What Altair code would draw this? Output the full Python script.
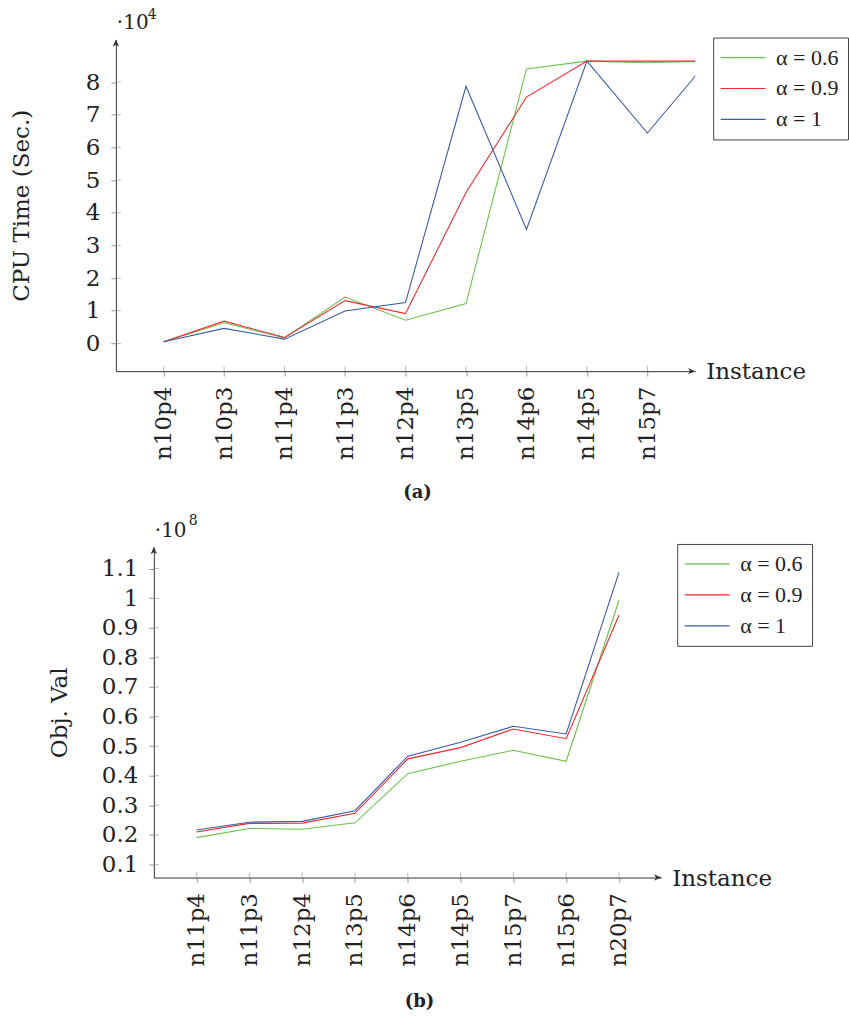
import json
import altair as alt
import pandas as pd

FONT = "DejaVu Serif"
LEG_FONT = "Liberation Serif"

# ---------------- data ----------------
series_labels = ["α = 0.6", "α = 0.9", "α = 1"]
series_colors = ["#6cbf4c", "#ee2a2f", "#3b5ba5"]

# panel (a): CPU time in seconds; last (10th) instance lies past the axis end
inst_a = ["n10p4", "n10p3", "n11p4", "n11p3", "n12p4", "n13p5", "n14p6", "n14p5", "n15p7"]
cpu_06 = [500, 6300, 1700, 14200, 7100, 12200, 84000, 86400, 85900, 86400]
cpu_09 = [500, 6800, 1800, 13100, 9100, 46200, 75400, 86400, 86400, 86400]
cpu_10 = [500, 4600, 1300, 9900, 12500, 78700, 34900, 86400, 64400, 86400]

# panel (b): objective value
inst_b = ["n11p4", "n11p3", "n12p4", "n13p5", "n14p6", "n14p5", "n15p7", "n15p6", "n20p7"]
obj_06 = [1.91e7, 2.22e7, 2.19e7, 2.41e7, 4.07e7, 4.49e7, 4.86e7, 4.49e7, 9.93e7]
obj_09 = [2.10e7, 2.39e7, 2.40e7, 2.73e7, 4.57e7, 4.95e7, 5.58e7, 5.25e7, 9.42e7]
obj_10 = [2.165e7, 2.43e7, 2.458e7, 2.82e7, 4.66e7, 5.13e7, 5.67e7, 5.41e7, 10.87e7]

cpu_ticks = [0, 10000, 20000, 30000, 40000, 50000, 60000, 70000, 80000]
obj_ticks = [1e7, 2e7, 3e7, 4e7, 5e7, 6e7, 7e7, 8e7, 9e7, 1e8, 1.1e8]


def long_df(series_list):
    rows = []
    for lab, vals in zip(series_labels, series_list):
        for i, v in enumerate(vals):
            rows.append({"idx": i, "val": v, "series": lab})
    return pd.DataFrame(rows)


df_a = long_df([cpu_06, cpu_09, cpu_10])
df_b = long_df([obj_06, obj_09, obj_10])

ARROW_UP = "M0,0L0.8,1.8L0,1.3L-0.8,1.8Z"
ARROW_RIGHT = "M0,0L-1.8,0.8L-1.3,0L-1.8,-0.8Z"
LEGEND_LINE = "M-3,0L3,0"


def one(**kw):
    return alt.Chart(pd.DataFrame([kw]))


def panel(df, inst, width, height, xdom, ydom, yticks, ylabel_expr, ytitle,
          exp_base, exp_sup, exp_pos, legend_xy, caption, caption_pos,
          bound_marker=None):
    xscale = alt.Scale(domain=xdom, nice=False, zero=False)
    yscale = alt.Scale(domain=ydom, nice=False, zero=False)
    x = alt.X("idx:Q", scale=xscale,
              axis=alt.Axis(values=list(range(len(inst))),
                            labelExpr=json.dumps(inst) + "[datum.value]",
                            labelAngle=-90, labelFlush=False, labelOverlap=False,
                            title=None, grid=False, tickSize=5, labelPadding=10))
    y = alt.Y("val:Q", scale=yscale,
              axis=alt.Axis(values=yticks, labelExpr=ylabel_expr,
                            labelFlush=False, labelOverlap=False,
                            title=ytitle, titleAngle=-90, titleX=-94,
                            titleAlign="center", titleBaseline="middle",
                            grid=False, tickSize=5, labelPadding=11))
    color = alt.Color("series:N",
                      scale=alt.Scale(domain=series_labels, range=series_colors),
                      legend=alt.Legend(orient="none", legendX=legend_xy[0],
                                        legendY=legend_xy[1], title=None,
                                        symbolType=LEGEND_LINE, symbolSize=225,
                                        symbolStrokeWidth=1.2, symbolOffset=10,
                                        labelFont=LEG_FONT,
                                        labelFontSize=22, labelColor="#222",
                                        labelOffset=22, strokeColor="#444",
                                        fillColor="white", padding=9,
                                        rowPadding=9))
    lines = alt.Chart(df).mark_line(strokeWidth=1.1, clip=True).encode(
        x=x, y=y, color=color, order="idx:Q")

    # inner halves of the axis ticks (pgfplots ticks cross the axis line)
    yt = alt.Chart(pd.DataFrame({"val": yticks})).mark_tick(
        color="#999", size=5, thickness=1).encode(
        y=alt.Y("val:Q", scale=yscale, axis=None), x=alt.value(2.5))
    xt = alt.Chart(pd.DataFrame({"idx": list(range(len(inst)))})).mark_tick(
        color="#999", size=5, thickness=1).encode(
        x=alt.X("idx:Q", scale=xscale, axis=None), y=alt.value(height - 2.5))

    up = one(k=0).mark_point(shape=ARROW_UP, size=64, filled=True, color="#333",
                             opacity=1, strokeWidth=0).encode(
        x=alt.value(0), y=alt.value(0))
    right = one(k=0).mark_point(shape=ARROW_RIGHT, size=64, filled=True, color="#333",
                                opacity=1, strokeWidth=0).encode(
        x=alt.value(width), y=alt.value(height))

    inst_txt = one(t="Instance").mark_text(font=FONT, fontSize=23, align="left",
                                          baseline="middle", color="#222").encode(
        text="t:N", x=alt.value(width + 11), y=alt.value(height + 1))
    e1 = one(t=exp_base).mark_text(font=FONT, fontSize=20, align="left",
                                   baseline="alphabetic", color="#222").encode(
        text="t:N", x=alt.value(exp_pos[0]), y=alt.value(exp_pos[1]))
    e2 = one(t=exp_sup).mark_text(font=FONT, fontSize=14, align="left",
                                  baseline="alphabetic", color="#222").encode(
        text="t:N", x=alt.value(exp_pos[2]), y=alt.value(exp_pos[3]))
    cap = one(t=caption).mark_text(font=FONT, fontSize=18, fontWeight="bold",
                                   align="center", baseline="middle",
                                   color="#222").encode(
        text="t:N", x=alt.value(caption_pos[0]), y=alt.value(caption_pos[1]))
    layers = [lines, yt, xt, up, right, inst_txt, e1, e2, cap]
    if bound_marker is not None:
        bm = one(k=0).mark_rule(opacity=0, strokeWidth=0.01).encode(
            x=alt.value(bound_marker[0]), x2=alt.value(bound_marker[0]),
            y=alt.value(bound_marker[1]), y2=alt.value(bound_marker[1]))
        layers.append(bm)
    return alt.layer(*layers).resolve_axis(
        x="independent", y="independent"
    ).properties(width=width, height=height)


top = panel(df_a, inst_a, 580, 332, [-0.79, 8.79], [-8500, 93000], cpu_ticks,
            "datum.value / 10000", "CPU Time (Sec.)",
            "·10", "4", (1, -11, 32, -21), (598, -2), "(a)", (302, 454),
            bound_marker=(-116, -39))

bottom = panel(df_b, inst_b, 508, 331, [-0.81, 8.8], [0.56e7, 11.73e7], obj_ticks,
               "format(datum.value / 100000000, '.1~f')", "Obj. Val",
               "·10", "8", (1, -10, 35, -22), (562, -3), "(b)", (266, 456))

spacer = one(k=0).mark_point(opacity=0, size=1).encode(
    x=alt.X("k:Q", axis=None), y=alt.Y("k:Q", axis=None)
).properties(width=38, height=331)

bottom_row = alt.hconcat(spacer, bottom, spacing=0, bounds="flush")

chart = alt.vconcat(top, bottom_row, spacing=176, bounds="flush").resolve_scale(
    color="independent"
).properties(padding=0).configure_view(stroke=None).configure_axis(
    labelFont=FONT, labelFontSize=23, labelColor="#222",
    titleFont=FONT, titleFontSize=23, titleFontWeight="normal", titleColor="#222",
    domainColor="#333", domainWidth=1, tickColor="#999", tickWidth=1
)

chart.save("out.html", embed_options={"renderer": "svg", "actions": False})
